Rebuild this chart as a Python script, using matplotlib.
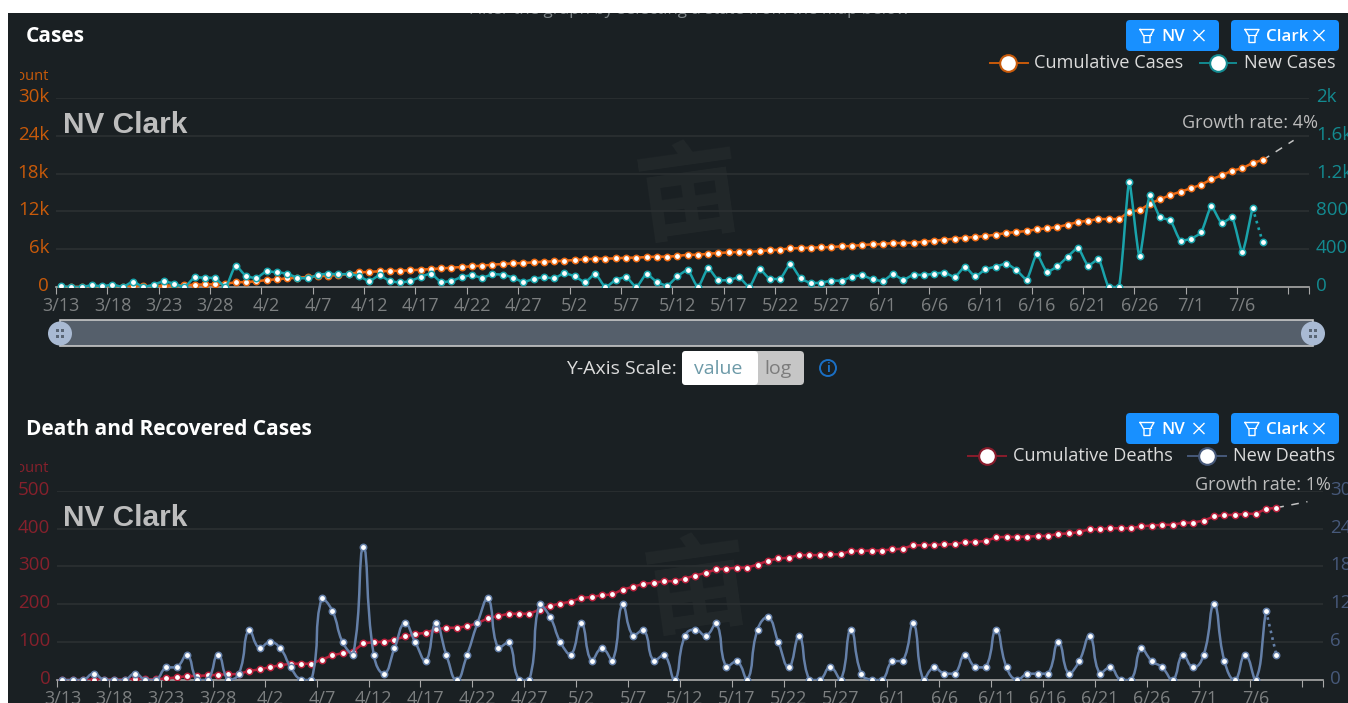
import matplotlib
matplotlib.use("Agg")
import matplotlib.pyplot as plt
from matplotlib.patches import FancyBboxPatch, PathPatch, Rectangle, Circle
from matplotlib.path import Path
from matplotlib.transforms import Bbox, ScaledTranslation

W, H = 1348, 703
BG = "#1a2023"

date_labels = ["3/13", "3/18", "3/23", "3/28", "4/2", "4/7", "4/12", "4/17", "4/22", "4/27",
	"5/2", "5/7", "5/12", "5/17", "5/22", "5/27", "6/1", "6/6", "6/11", "6/16",
	"6/21", "6/26", "7/1", "7/6"]

cumulative_cases = [10, 15, 25, 30, 40, 50, 60, 90, 120, 150, 210, 260, 300, 370, 400, 430, 530, 740,
	800, 900, 1110, 1217, 1375, 1480, 1590, 1690, 1800, 1900, 2050, 2330, 2400, 2500, 2550, 2590, 2650,
	2750, 2850, 2950,
	3068, 3174, 3280, 3386, 3544, 3650, 3756, 3809, 3915, 4020, 4073, 4179, 4285, 4391, 4497, 4497,
	4549, 4655, 4655, 4761, 4814, 4814, 4920, 5131, 5100, 5290, 5396, 5502, 5555, 5555, 5713, 5819,
	5925, 6136, 6189, 6242, 6295, 6348, 6454, 6507, 6665, 6771, 6824, 6983,
	6990, 7036, 7194, 7353, 7512, 7670, 7829, 7935, 8094, 8305, 8570, 8729, 8887, 9152, 9310, 9522,
	9892, 10316, 10527, 10792, 10792, 10792, 11955, 12167, 13225, 13913, 14600, 15129, 15658, 16240,
	17087, 17721, 18462, 18832, 19679, 20155]
new_cases = [7, 0, 0, 18, 7, 25, 0, 56, 0, 25, 60, 35, 0, 102, 99, 92, 0, 226, 116, 95, 166, 155, 141,
	99, 92, 127, 141, 134, 138, 116, 63, 123, 63, 49, 63, 109, 141, 53,
	63, 106, 123, 99, 134, 130, 99, 53, 85, 102, 92, 145, 113, 53, 138, 0, 74, 106, 0, 138, 53, 14,
	113, 180, 0, 198, 71, 74, 102, 0, 190, 85, 85, 240, 92, 42, 46, 67, 67, 109, 123, 81, 63, 134,
	78, 130, 127, 141, 152, 106, 212, 113, 187, 215, 247, 180, 78, 346, 159, 219, 321, 413, 226, 296,
	0, 0, 1111, 324, 973, 737, 705, 487, 511, 578, 853, 677, 737, 370, 839, 473]
cases_forecast = [20155, 23276]

cumulative_deaths = [0, 0, 0, 1, 1, 1, 1, 2, 2, 2, 4, 7, 10, 11, 12, 14, 15, 16, 24, 28, 34, 39, 43, 43, 43,
	54, 65, 71, 75, 97, 100, 101, 106, 115, 121, 125, 134, 138,
	138, 142, 150, 163, 169, 175, 175, 175, 186, 196, 202, 207, 217, 219, 224, 226, 239, 246, 254, 257,
	261, 261, 268, 276, 283, 292, 294, 297, 297, 305, 315, 321, 323, 330, 330, 330, 332, 332, 341, 341,
	342, 342, 345,
	347, 356, 356, 357, 358, 359, 364, 365, 367, 377, 378, 378, 379, 380, 381, 386, 387, 391, 398, 398,
	401, 401, 401, 406, 408, 410, 410, 415, 416, 421, 432, 436, 436, 439, 439, 452, 455]
new_deaths = [0, 0, 0, 1, 0, 0, 0, 1, 0, 0, 2, 2, 4, 0, 0, 4, 0, 1, 8, 5, 6, 5, 2, 0, 0, 13, 11, 6, 4, 21,
	4, 1, 5, 9, 6, 3, 9, 4,
	0, 4, 9, 13, 5, 6, 0, 0, 12, 10, 6, 4, 9, 3, 5, 3, 12, 7, 8, 3, 4, 0, 7, 8, 7, 9, 2, 3, 0, 8, 10,
	6, 2, 7, 0, 0, 2, 0, 8, 1, 0, 0, 3,
	3, 9, 0, 2, 1, 1, 4, 2, 2, 8, 2, 0, 1, 1, 1, 6, 1, 3, 7, 1, 2, 0, 0, 5, 3, 2, 0, 4, 2, 4, 12, 3, 0,
	4, 0, 11, 4]
deaths_forecast = [455, 471]

cases_ticks_left = [0, 6000, 12000, 18000, 24000, 30000]
cases_labels_left = ["0", "6k", "12k", "18k", "24k", "30k"]
cases_ticks_right = [0, 400, 800, 1200, 1600, 2000]
cases_labels_right = ["0", "400", "800", "1.2k", "1.6k", "2k"]
deaths_ticks_left = [0, 100, 200, 300, 400, 500]
deaths_ticks_right = [0, 6, 12, 18, 24, 30]

plt.rcParams["font.family"] = ["Open Sans", "DejaVu Sans"]
fig = plt.figure(figsize=(W / 100, H / 100), dpi=100, facecolor=BG)

def ax_rect(l, t, r, b):
	return [l / W, 1 - b / H, (r - l) / W, (b - t) / H]

def smooth_patch(x, y, k, sx, sy, color, lw):
	# bezier through the points, control points kept inside the neighbours
	n = len(x)
	verts = [(x[0], y[0])]
	codes = [Path.MOVETO]
	for i in range(n - 1):
		cps = []
		for j, side in ((i, 1), (i + 1, -1)):
			p = max(j - 1, 0)
			q = min(j + 1, n - 1)
			d0 = ((x[j] - x[p]) ** 2 * sx ** 2 + (y[j] - y[p]) ** 2 * sy ** 2) ** 0.5
			d1 = ((x[q] - x[j]) ** 2 * sx ** 2 + (y[q] - y[j]) ** 2 * sy ** 2) ** 0.5
			ratio = (d1 if side > 0 else d0) / max(d0 + d1, 1e-6)
			cx = x[j] + side * (x[q] - x[p]) * k * ratio
			cy = y[j] + side * (y[q] - y[p]) * k * ratio
			other = y[j + side]
			cy = min(max(cy, min(y[j], other)), max(y[j], other))
			cps.append((cx, cy))
		verts += [cps[0], cps[1], (x[i + 1], y[i + 1])]
		codes += [Path.CURVE4, Path.CURVE4, Path.CURVE4]
	return PathPatch(Path(verts, codes), fill=False, edgecolor=color, lw=lw, capstyle="round", joinstyle="round")

def draw_chart(rect, cum, new, forecast, left_ticks, left_labels, right_ticks, right_labels,
		cum_color, new_color, left_text, right_text, smooth):
	l, t, r, b = rect
	ax = fig.add_axes(ax_rect(l, t, r, b), facecolor="none")
	ax2 = ax.twinx()
	x = list(range(len(cum)))
	ax.set_xlim(-0.5, 121.5)
	ax.set_ylim(left_ticks[0], left_ticks[-1])
	ax2.set_ylim(right_ticks[0], right_ticks[-1])

	ax.set_yticks(left_ticks)
	ax.set_yticklabels(left_labels, fontsize=13.5, color=left_text)
	ax2.set_yticks(right_ticks)
	ax2.set_yticklabels(right_labels, fontsize=13.5, color=right_text)
	ax.tick_params(axis="y", length=0, pad=5)
	ax2.tick_params(axis="y", length=0, pad=5)
	up = ScaledTranslation(0, 0.03, fig.dpi_scale_trans)
	for a in (ax, ax2):
		for lab in a.get_yticklabels():
			lab.set_transform(lab.get_transform() + up)
	ax.grid(axis="y", color="#2b3032", lw=1.2)
	ax.set_axisbelow(True)

	ticks = [i * 5 - 0.5 for i in range(len(date_labels))] + [119.5, 121.5]
	ax.set_xticks(ticks)
	ax.set_xticklabels([])
	ax.set_xticks([i * 5 for i in range(len(date_labels))], minor=True)
	ax.set_xticklabels(date_labels, minor=True, fontsize=13, color="#7c7f80")
	ax.tick_params(axis="x", which="major", length=5, color="#a8a8a8", direction="out")
	ax.tick_params(axis="x", which="minor", length=0, pad=7.5)
	for a in (ax, ax2):
		for name in ("top", "left", "right"):
			a.spines[name].set_visible(False)
	ax.spines["bottom"].set_color("#a8a8a8")
	ax.spines["bottom"].set_linewidth(1.2)
	ax2.spines["bottom"].set_visible(False)

	ax.text(0.506, 0.475, "亩", transform=ax.transAxes, family=["Noto Sans CJK SC", "DejaVu Sans"],
		fontsize=76, fontweight="bold", color="#22282a", ha="center", va="center", rotation=8, zorder=0.5)

	ax.plot(x, cum, color=cum_color, lw=1.8, marker="o", ms=4.6, mfc="white", mec=cum_color, mew=1.1, zorder=3)
	ax.plot([117, 120], forecast, color="#c4c4c4", lw=1.1, ls=(0, (5, 5)), zorder=2)

	sx = (r - l) / 122
	sy = (b - t) / right_ticks[-1]
	ax2.add_patch(smooth_patch(x[:-1], new[:-1], smooth, sx, sy, new_color, 1.8))
	ax2.plot(x[-2:], new[-2:], color=new_color, lw=1.9, ls=(0, (1, 1.6)))
	ax2.plot(x, new, ls="none", marker="o", ms=4.6, mfc="white", mec=new_color, mew=1.1, zorder=3)
	return ax

draw_chart((56, 98, 1309, 287), cumulative_cases, new_cases, cases_forecast,
	cases_ticks_left, cases_labels_left, cases_ticks_right, cases_labels_right,
	"#ec6a14", "#1aa3ab", "#c85a0a", "#138a90", 0.2)
draw_chart((57.3, 490.7, 1323, 680), cumulative_deaths, new_deaths, deaths_forecast,
	deaths_ticks_left, [str(v) for v in deaths_ticks_left], deaths_ticks_right, [str(v) for v in deaths_ticks_right],
	"#b8213c", "#6580a8", "#86202c", "#47597a", 0.5)

# everything around the plots is drawn in page pixels
ui = fig.add_axes([0, 0, 1, 1], facecolor="none")
ui.set_xlim(0, W)
ui.set_ylim(H, 0)
ui.axis("off")

def button(x0, x1, y0, y1, label):
	ui.add_patch(FancyBboxPatch((x0 + 3, y0 + 3), x1 - x0 - 6, y1 - y0 - 6, boxstyle="round,pad=3,rounding_size=4",
		fc="#1890ff", ec="none", zorder=5))
	ym = (y0 + y1) / 2
	ix = x0 + 21
	ui.plot([ix - 7, ix + 7, ix + 3, ix + 3, ix - 3, ix - 3, ix - 7],
		[ym - 6, ym - 6, ym + 1, ym + 7, ym + 7, ym + 1, ym - 6], color="white", lw=1, zorder=6)
	ui.plot([ix - 4, ix + 4], [ym - 1, ym - 1], color="white", lw=0.8, zorder=6)
	ui.text(ix + 14, ym + 1.5, label, color="white", fontsize=12.2, fontweight="semibold", va="center", ha="left", zorder=6)
	cx = x1 - 20
	ui.plot([cx - 5, cx + 5], [ym - 5, ym + 5], color="white", lw=1, zorder=6)
	ui.plot([cx - 5, cx + 5], [ym + 5, ym - 5], color="white", lw=1, zorder=6)

def legend_item(x0, x1, mx, y, color, label, tx):
	ui.plot([x0, x1], [y, y], color=color, lw=1.4, zorder=5)
	ui.plot([mx], [y], marker="o", ms=12, mfc="white", mec=color, mew=1.5, zorder=6)
	ui.text(tx, y, label, color="#dcdcdc", fontsize=13.1, va="center", ha="left", zorder=6)

def count_label(y, color):
	t = ui.text(49, y, "Count", color=color, fontsize=10.5, ha="right", va="center", clip_on=True)
	t.set_clip_box(Bbox([[20, 0], [60, H]]))

ui.text(26, 36.5, "Cases", color="white", fontsize=15, fontweight="bold", va="center")
ui.text(26, 429.5, "Death and Recovered Cases", color="white", fontsize=15, fontweight="bold", va="center")
ui.text(63, 125, "NV Clark", color="#bdbdbd", fontsize=21.4, fontweight="bold", family="Liberation Sans", va="center")
ui.text(63, 518, "NV Clark", color="#bdbdbd", fontsize=21.4, fontweight="bold", family="Liberation Sans", va="center")
count_label(76, "#c85a0a")
count_label(469, "#86202c")

button(1126, 1219, 20, 51, "NV")
button(1231, 1339, 20, 51, "Clark")
button(1126, 1219, 413, 444, "NV")
button(1231, 1339, 413, 444, "Clark")

legend_item(990, 1028, 1008, 63, "#c85a0a", "Cumulative Cases", 1034)
legend_item(1200, 1236, 1218, 63, "#138a90", "New Cases", 1244)
legend_item(968, 1006, 987, 456, "#8a1c2c", "Cumulative Deaths", 1013)
legend_item(1188, 1226, 1207, 456, "#47597a", "New Deaths", 1233)

ui.text(1318, 123, "Growth rate: 4%", color="#bcbcbc", fontsize=13, ha="right", va="center")
ui.text(1331, 485, "Growth rate: 1%", color="#bcbcbc", fontsize=13, ha="right", va="center")

# zoom slider
ui.add_patch(Rectangle((60, 320), 1253, 26, fc="#555f6b", ec="#c8c8c8", lw=1.2, zorder=3))
for hx in (60, 1313):
	ui.add_patch(Circle((hx, 333.5), 12, fc="#a9bad3", ec="none", zorder=4))
	for dx in (-2.5, 2.5):
		for dy in (-3, 3):
			ui.add_patch(Rectangle((hx + dx - 1.5, 333.5 + dy - 1.5), 3, 3, fc="#5a6675", ec="none", zorder=5))

# y axis scale switch
ui.text(677, 369, "Y-Axis Scale:", color="#dcdcdc", fontsize=14, ha="right", va="center")
ui.add_patch(FancyBboxPatch((686, 355), 114, 26, boxstyle="round,pad=4,rounding_size=4", fc="#c6c6c6", ec="none", zorder=3))
ui.add_patch(FancyBboxPatch((686, 355), 68, 26, boxstyle="round,pad=4,rounding_size=4", fc="white", ec="none", zorder=4))
ui.add_patch(Rectangle((745, 351), 9, 34, fc="white", ec="none", zorder=4))
ui.text(718, 369, "value", color="#6d9aa8", fontsize=14, ha="center", va="center", zorder=5)
ui.text(778, 369, "log", color="#7c7c7c", fontsize=14, ha="center", va="center", zorder=5)
ui.add_patch(Circle((828, 368), 8, fc="none", ec="#1a6fc4", lw=1.4))
ui.text(828, 368, "i", color="#1a6fc4", fontsize=9, fontweight="bold", ha="center", va="center")

# page behind the dark panel shows along the top and left edge
ui.text(689, 9.5, "Filter the graph by selecting a state from the map below", color="#7d8487", fontsize=12.2, ha="center", va="center", zorder=8)
ui.add_patch(Rectangle((0, 0), W, 13, fc="white", ec="none", zorder=9))
ui.add_patch(Rectangle((0, 0), 8, H, fc="white", ec="none", zorder=9))

fig.savefig("out.png", dpi=100, facecolor=fig.get_facecolor())
